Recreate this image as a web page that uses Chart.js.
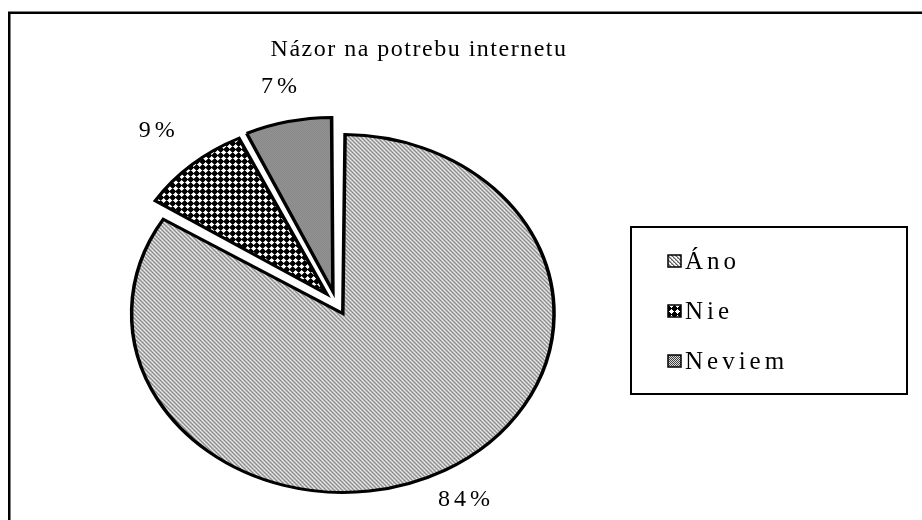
<!DOCTYPE html>
<html><head><meta charset="utf-8">
<script src="https://cdn.jsdelivr.net/npm/chart.js@4.4.1/dist/chart.umd.min.js"></script>
<style>html,body{margin:0;padding:0;background:#fff}#wrap{width:922px;height:520px;position:relative}</style>
</head><body><div id="wrap"><canvas id="c" width="922" height="520"></canvas></div>
<script>
// ---- data ----
const chartTitle = 'Názor na potrebu internetu';
const categories = ['Áno', 'Nie', 'Neviem'];
const percentages = [84, 9, 7];
const percentLabels = ['84%', '9%', '7%'];

// ---- styles ----
const FONT = '"Liberation Serif", "Times New Roman", serif';
const X_STRETCH = 1.18;          // reference pie is drawn as an ellipse
const labelGap = [34, 45, 36];   // distance of % labels outside the rim

function makePattern(kind) {
  const t = document.createElement('canvas');
  const c = t.getContext('2d');
  if (kind === 'ano') {
    t.width = 4; t.height = 4;
    c.fillStyle = '#ffffff'; c.fillRect(0, 0, 4, 4);
    for (let i = 0; i < 4; i++) {
      c.fillStyle = '#5e5e5e'; c.fillRect(i, i, 1, 1);
      c.fillStyle = '#a8a8a8'; c.fillRect((i + 1) % 4, i, 1, 1);
    }
    c.fillStyle = '#c8c8c8'; c.fillRect(3, 0, 1, 1); c.fillRect(1, 2, 1, 1);
  } else if (kind === 'nie') {
    t.width = 6; t.height = 6;
    c.fillStyle = '#ffffff'; c.fillRect(0, 0, 6, 6);
    c.fillStyle = '#000000';
    c.fillRect(0, 0, 5, 5);
    c.fillStyle = '#ffffff';
    c.fillRect(0, 0, 1, 1); c.fillRect(4, 0, 1, 1); c.fillRect(0, 4, 1, 1); c.fillRect(4, 4, 1, 1);
    c.fillStyle = '#000000';
    c.fillRect(2, 5, 1, 1); c.fillRect(5, 2, 1, 1);
  } else {
    t.width = 2; t.height = 2;
    c.fillStyle = '#dcdcdc'; c.fillRect(0, 0, 2, 2);
    c.fillStyle = '#404040'; c.fillRect(0, 0, 1, 1); c.fillRect(1, 1, 1, 1);
  }
  return t;
}
const ctx0 = document.getElementById('c').getContext('2d');
const tiles = [makePattern('ano'), makePattern('nie'), makePattern('neviem')];
const pieFills = tiles.map(t => {
  const p = ctx0.createPattern(t, 'repeat');
  p.setTransform(new DOMMatrix().scale(1 / X_STRETCH, 1));
  return p;
});
const legendFills = tiles.map(t => ctx0.createPattern(t, 'repeat'));

const stretchPlugin = {
  id: 'stretch',
  beforeDatasetsDraw(chart) {
    const a = chart.getDatasetMeta(0).data[0];
    const ctx = chart.ctx;
    ctx.save();
    ctx.translate(a.x, a.y); ctx.scale(X_STRETCH, 1); ctx.translate(-a.x, -a.y);
  },
  afterDatasetsDraw(chart) { chart.ctx.restore(); }
};

const decorPlugin = {
  id: 'decor',
  afterDraw(chart) {
    const ctx = chart.ctx;
    ctx.save();
    // outer frame (clipped at right and bottom in reference)
    ctx.strokeStyle = '#000'; ctx.lineWidth = 2.5;
    ctx.beginPath(); ctx.moveTo(9.25, 530); ctx.lineTo(9.25, 12.75); ctx.lineTo(930, 12.75); ctx.stroke();

    ctx.fillStyle = '#000';
    // title
    ctx.letterSpacing = '1.5px';
    ctx.font = '24px ' + FONT;
    ctx.textAlign = 'center'; ctx.textBaseline = 'alphabetic';
    ctx.fillText(chartTitle, 419, 56);

    // percentage labels
    ctx.letterSpacing = '4px';
    const meta = chart.getDatasetMeta(0);
    meta.data.forEach((arc, i) => {
      const h = (arc.startAngle + arc.endAngle) / 2;
      const off = (arc.options.offset || 0) / 4;
      const fix = 1 - Math.sin(Math.min(Math.PI, arc.circumference));
      const R = arc.outerRadius + off * fix + labelGap[i];
      const x = arc.x + Math.cos(h) * (off + R) * X_STRETCH;
      const y = arc.y + Math.sin(h) * (off + R);
      ctx.textAlign = 'center'; ctx.textBaseline = 'middle';
      ctx.fillText(percentLabels[i], x + 2, y);
    });

    // legend
    ctx.font = '25px ' + FONT;
    ctx.letterSpacing = '4px';
    ctx.lineWidth = 2;
    ctx.strokeStyle = '#000';
    ctx.strokeRect(631, 227, 276, 167);
    ctx.textAlign = 'left'; ctx.textBaseline = 'alphabetic';
    categories.forEach((lab, i) => {
      const y = 269 + i * 50;
      ctx.fillStyle = legendFills[i];
      ctx.fillRect(668, y - 14, 13, 12);
      ctx.lineWidth = 1.5;
      ctx.strokeRect(668, y - 14, 13, 12);
      ctx.fillStyle = '#000';
      ctx.fillText(lab, 685, y);
    });
    ctx.restore();
  }
};

new Chart(document.getElementById('c'), {
  type: 'pie',
  data: {
    labels: categories,
    datasets: [{
      data: percentages,
      backgroundColor: pieFills,
      borderColor: '#000',
      borderWidth: 3,
      borderJoinStyle: 'miter',
      offset: 48
    }]
  },
  options: {
    responsive: false,
    animation: false,
    events: [],
    radius: 167,
    layout: { padding: { left: 136, right: 386, top: 103, bottom: 17 } },
    plugins: { legend: { display: false }, title: { display: false }, tooltip: { enabled: false } }
  },
  plugins: [stretchPlugin, decorPlugin]
});
</script>
</body></html>
